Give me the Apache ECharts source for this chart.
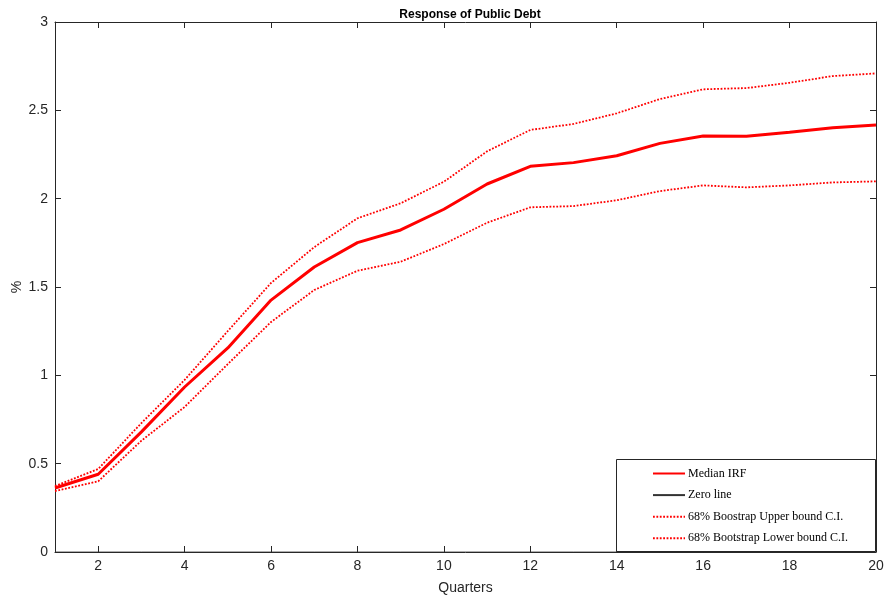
<!DOCTYPE html>
<html><head><meta charset="utf-8">
<script src="https://cdn.jsdelivr.net/npm/echarts@6/dist/echarts.min.js"></script>
<style>html,body{margin:0;padding:0;background:#fff}#c{width:885px;height:597px}</style>
</head><body><div id="c"></div>
<script>
const quarters = [1,2,3,4,5,6,7,8,9,10,11,12,13,14,15,16,17,18,19,20];
const median = [0.362,0.44,0.68,0.934,1.155,1.426,1.613,1.751,1.823,1.94,2.083,2.183,2.204,2.243,2.313,2.355,2.353,2.376,2.402,2.417];
const upper  = [0.373,0.47,0.73,0.974,1.251,1.523,1.726,1.889,1.974,2.096,2.268,2.389,2.423,2.483,2.564,2.619,2.626,2.656,2.694,2.709];
const lower  = [0.345,0.40,0.63,0.821,1.064,1.302,1.483,1.592,1.643,1.743,1.864,1.951,1.958,1.991,2.043,2.075,2.064,2.075,2.092,2.098];
const zero   = quarters.map(() => 0);
const xTicks = [2,4,6,8,10,12,14,16,18,20];

const axisCol = '#262626';
const pair = (ys) => quarters.map((q,i) => [q, ys[i]]);
const chart = echarts.init(document.getElementById('c'));
chart.setOption({
  animation:false,
  title:{text:'Response of Public Debt',left:465,top:4,textAlign:'center',
    textStyle:{fontFamily:'Liberation Sans',fontSize:12,fontWeight:'bold',color:'#000'}},
  grid:{left:55,right:9,top:22,bottom:45,containLabel:false,outerBoundsMode:'none'},
  graphic:[{type:'rect',shape:{x:616.5,y:459.5,width:259,height:92},
    style:{fill:'#fff',stroke:axisCol,lineWidth:1},z:50}],
  legend:{orient:'vertical',left:647,top:462.5,itemWidth:32,itemHeight:14,itemGap:9.6,z:60,
    itemStyle:{opacity:0},
    textStyle:{fontFamily:'Liberation Serif',fontSize:12,color:'#000',padding:[0,0,0,-2]},
    data:[{name:'Median IRF'},{name:'Zero line'},{name:'68% Boostrap Upper bound C.I.'},{name:'68% Bootstrap Lower bound C.I.'}]},
  xAxis:[{type:'value',min:1,max:20,name:'Quarters',nameLocation:'middle',nameGap:29,nameMoveOverlap:false,
    nameTextStyle:{fontFamily:'Liberation Sans',fontSize:14,color:axisCol},
    axisLine:{onZero:false,lineStyle:{color:axisCol,width:1}},
    axisTick:{inside:true,length:6,customValues:xTicks,lineStyle:{color:axisCol}},
    axisLabel:{customValues:xTicks,fontFamily:'Liberation Sans',fontSize:14,color:axisCol,margin:7},
    splitLine:{show:false}},
   {type:'value',position:'top',min:1,max:20,
    axisLine:{onZero:false,lineStyle:{color:axisCol,width:1}},
    axisTick:{inside:true,length:6,customValues:xTicks,lineStyle:{color:axisCol}},
    axisLabel:{show:false},splitLine:{show:false}}],
  yAxis:[{type:'value',min:0,max:3,interval:0.5,name:'%',nameLocation:'middle',nameGap:31,nameMoveOverlap:false,
    nameTextStyle:{fontFamily:'Liberation Sans',fontSize:14,color:axisCol},
    axisLine:{show:true,onZero:false,lineStyle:{color:axisCol,width:1}},
    axisTick:{show:true,inside:true,length:6,lineStyle:{color:axisCol}},
    axisLabel:{fontFamily:'Liberation Sans',fontSize:14,color:axisCol,margin:7,
      formatter:v=>String(v)},
    splitLine:{show:false}},
   {type:'value',position:'right',min:0,max:3,interval:0.5,
    axisLine:{show:true,onZero:false,lineStyle:{color:axisCol,width:1}},
    axisTick:{show:true,inside:true,length:6,lineStyle:{color:axisCol}},
    axisLabel:{show:false},splitLine:{show:false}}],
  series:[
    {name:'Median IRF',type:'line',data:pair(median),symbol:'none',lineStyle:{color:'#ff0000',width:3},itemStyle:{color:'#ff0000'},z:5},
    {name:'Zero line',type:'line',data:pair(zero),symbol:'none',lineStyle:{color:'#333',width:0.8},itemStyle:{color:'#333'},z:3},
    {name:'68% Boostrap Upper bound C.I.',type:'line',data:pair(upper),symbol:'none',lineStyle:{color:'#ff0000',width:1.8,type:[1.8,1.6]},itemStyle:{color:'#ff0000'},z:4},
    {name:'68% Bootstrap Lower bound C.I.',type:'line',data:pair(lower),symbol:'none',lineStyle:{color:'#ff0000',width:1.8,type:[1.8,1.6]},itemStyle:{color:'#ff0000'},z:4}
  ]
});
</script></body></html>
